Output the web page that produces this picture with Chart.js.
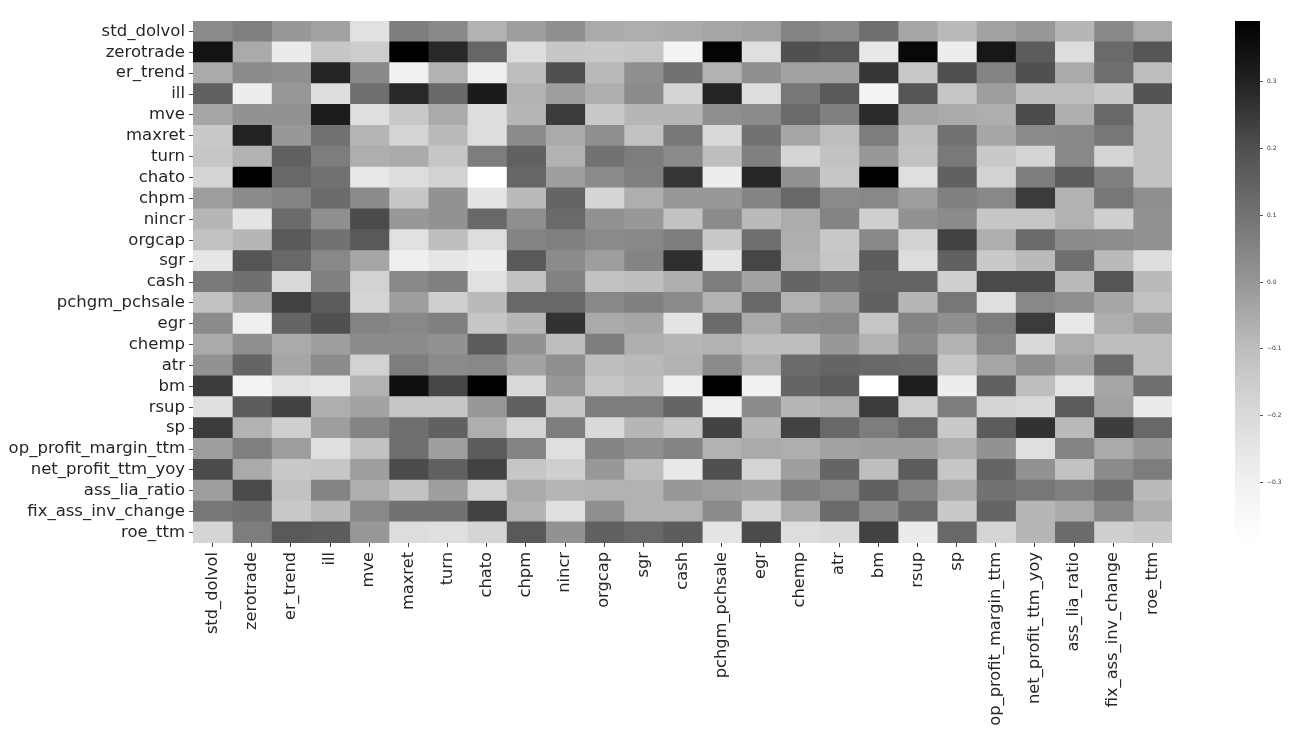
<!DOCTYPE html>
<html><head><meta charset="utf-8">
<style>html,body{margin:0;padding:0;background:#fff;width:1302px;height:732px;overflow:hidden}
canvas{position:absolute;top:0;filter:blur(0.75px)}#heat{left:0}#bar{left:1225px}</style>
<script src="https://cdn.jsdelivr.net/npm/chart.js@4"></script></head><body>
<canvas id="heat" width="1302" height="732"></canvas>
<canvas id="bar" width="77" height="732"></canvas>
<script>
const labels=["std_dolvol","zerotrade","er_trend","ill","mve","maxret","turn","chato","chpm","nincr","orgcap","sgr","cash","pchgm_pchsale","egr","chemp","atr","bm","rsup","sp","op_profit_margin_ttm","net_profit_ttm_yoy","ass_lia_ratio","fix_ass_inv_change","roe_ttm"];
const colorbarTicks=[-0.3,-0.2,-0.1,0,0.1,0.2,0.3];
const vmin=-0.39,vmax=0.39;
const greys=["#ffffff","#f0f0f0","#d9d9d9","#bdbdbd","#969696","#737373","#525252","#252525","#000000"];
const r00=[.03,.06,-.005,-.03,-.23,.07,.035,-.07,-.02,.02,-.05,-.06,-.05,-.04,-.03,.05,.03,.11,-.04,-.09,-.03,-.005,-.08,.035,-.05];
const r01=[.34,-.05,-.27,-.13,-.15,.39,.285,.135,-.21,-.13,-.14,-.13,-.31,.38,-.22,.2,.185,-.26,.37,-.28,.33,.165,-.21,.125,.185];
const r02=[-.05,.03,.02,.295,.035,-.30,-.07,-.29,-.10,.2,-.09,.02,.1,-.07,.02,-.03,-.03,.255,-.135,.2,.05,.2,-.05,.11,-.10];
const r03=[.15,-.28,-.005,-.21,.11,.285,.13,.32,-.07,-.02,-.06,.03,-.18,.295,-.21,.085,.175,-.31,.185,-.13,-.02,-.10,-.10,-.14,.19];
const r04=[-.04,.01,.01,.315,-.22,-.135,-.05,-.21,-.08,.245,-.14,-.08,-.08,.02,.03,.125,.06,.28,-.04,-.05,-.06,.21,-.06,.13,-.115];
const r05=[-.14,.30,-.005,.1,-.08,-.18,-.09,-.21,.03,-.05,.02,-.115,.085,-.195,.1,-.04,-.10,.07,-.10,.1,-.04,.03,.04,.085,-.115];
const r06=[-.13,-.07,.15,.07,-.06,-.05,-.13,.07,.15,-.07,.1,.07,.03,-.10,.06,-.18,-.115,-.005,-.115,.08,-.14,-.18,.04,-.18,-.115];
const r07=[-.18,.39,.13,.1,-.26,-.21,-.17,-.39,.135,-.02,.03,.06,.255,-.28,.29,.01,-.13,.39,-.22,.15,-.17,.07,.165,.06,-.115];
const r08=[-.02,.03,.05,.12,.03,-.13,.01,-.24,-.09,.14,-.18,-.06,-.005,-.005,.05,.13,.03,.04,-.02,.06,.04,.245,-.07,.085,.02];
const r09=[-.08,-.24,.12,.02,.21,-.005,.01,.13,.02,.125,.01,-.005,-.115,.03,-.09,-.055,.05,-.16,.01,.03,-.13,-.13,-.07,-.16,.01];
const r10=[-.115,-.08,.17,.1,.175,-.23,-.10,-.21,.05,.06,.03,.04,.07,-.14,.11,-.06,-.14,.04,-.17,.23,-.06,.125,.03,.025,.01];
const r11=[-.25,.185,.13,.04,-.04,-.29,-.25,-.28,.175,.03,-.02,.05,.27,-.24,.22,-.07,-.13,.165,-.21,.15,-.14,-.09,.11,-.09,-.21];
const r12=[.08,.105,-.195,.06,-.17,.035,.06,-.23,-.115,.055,-.11,-.10,-.06,.07,-.03,.14,.11,.14,.14,-.16,.21,.21,-.09,.185,-.09];
const r13=[-.115,-.03,.23,.165,-.18,-.02,-.16,-.09,.13,.13,.04,.06,.03,-.07,.13,-.07,-.02,.15,-.08,.085,-.22,.04,.02,-.04,-.115];
const r14=[.03,-.29,.14,.2,.05,.04,.06,-.13,-.08,.265,-.05,-.04,-.24,.12,-.05,.03,.04,-.13,.05,.02,.07,.245,-.26,-.06,-.02];
const r15=[-.05,.02,-.05,-.02,.03,.03,.01,.165,.01,-.10,.07,-.06,-.08,-.07,-.10,-.10,-.005,-.07,.03,-.07,.04,-.195,-.06,-.10,-.10];
const r16=[.01,.14,-.04,.03,-.17,.07,.03,.04,-.03,.02,-.10,-.09,-.07,.03,-.06,.12,.14,.13,.12,-.13,-.04,.02,-.03,.12,-.10];
const r17=[.245,-.31,-.23,-.25,-.07,.35,.22,.39,-.195,-.005,-.13,-.10,-.29,.39,-.30,.14,.165,-.39,.31,-.28,.15,-.10,-.24,-.04,.11];
const r18=[-.22,.165,.23,-.06,-.03,-.13,-.13,-.005,.15,-.13,.07,.07,.14,-.29,.03,-.08,-.06,.245,-.16,.07,-.18,-.195,.165,-.03,-.27];
const r19=[.245,-.07,-.16,-.02,.05,.11,.15,-.06,-.18,.07,-.195,-.08,-.13,.23,-.08,.23,.13,.07,.13,-.14,.165,.265,-.09,.24,.13];
const r20=[-.02,.06,-.02,-.22,-.115,.11,-.02,.165,.05,-.22,.05,.02,.05,-.07,-.05,-.06,-.03,-.02,-.02,-.06,.01,-.22,.05,-.05,-.005];
const r21=[.21,-.05,-.14,-.13,-.02,.21,.15,.23,-.13,-.16,-.005,-.10,-.26,.2,-.18,-.02,.14,-.10,.165,-.13,.14,.01,-.115,.03,.07];
const r22=[-.02,.21,-.115,.05,-.06,-.115,-.02,-.17,-.05,-.08,-.07,-.07,-.005,-.02,-.03,.06,.04,.15,.05,-.05,.1,.085,.06,.11,-.09];
const r23=[.085,.1,-.14,-.09,.04,.1,.1,.23,-.07,-.22,.02,-.07,-.07,.03,-.18,-.05,.12,.03,.12,-.14,.14,-.08,-.05,.04,-.06];
const r24=[-.18,.07,.175,.165,-.005,-.21,-.22,-.18,.175,.01,.15,.13,.165,-.24,.21,-.21,-.195,.23,-.27,.13,-.18,-.08,.12,-.16,-.14];
const rows=[r00,r01,r02,r03,r04,r05,r06,r07,r08,r09,r10,r11,r12,r13,r14,r15,r16,r17,r18,r19,r20,r21,r22,r23,r24];

function hex(c){return [1,3,5].map(i=>parseInt(c.substr(i,2),16));}
function colorOf(v){
  const p=Math.max(0,Math.min(1,(v-vmin)/(vmax-vmin)))*(greys.length-1);
  const i=Math.min(greys.length-2,Math.floor(p)),f=p-i;
  const a=hex(greys[i]),b=hex(greys[i+1]);
  const g=a.map((x,k)=>Math.round(x+(b[k]-x)*f));
  return `rgb(${g[0]},${g[1]},${g[2]})`;
}
const textColor="#262626";
new Chart(document.getElementById('heat'),{
  type:'bar',
  data:{labels:labels,datasets:labels.map((c,j)=>({
    label:c,
    data:rows.map(()=>[j,j+1]),
    backgroundColor:rows.map(r=>colorOf(r[j])),
    borderWidth:0,inflateAmount:0.5,grouped:false,barPercentage:1,categoryPercentage:1
  }))},
  options:{
    indexAxis:'y',responsive:false,animation:false,
    layout:{padding:{top:21,right:130,left:0,bottom:0}},
    plugins:{legend:{display:false},tooltip:{enabled:false},title:{display:false}},
    scales:{
      x:{type:'linear',min:0,max:labels.length,
        afterBuildTicks(s){s.ticks=labels.map((c,i)=>({value:i+0.5}));},
        afterFit(s){s.height=189;},
        grid:{drawOnChartArea:false,drawTicks:true,tickLength:4,tickColor:'#444',offset:false},
        border:{display:false},
        ticks:{autoSkip:false,minRotation:90,maxRotation:90,padding:5,color:textColor,font:{family:"'DejaVu Sans'",size:16.25},callback:(v,i)=>labels[i]}},
      y:{type:'category',
        afterFit(s){s.width=193;},
        grid:{drawOnChartArea:false,drawTicks:true,tickLength:4,tickColor:'#444',offset:false},
        border:{display:false},
        ticks:{autoSkip:false,padding:4,color:textColor,font:{family:"'DejaVu Sans'",size:16.5}}}
    }
  }
});
new Chart(document.getElementById('bar'),{
  type:'bar',
  data:{labels:['colorbar'],datasets:[{
    data:[[vmin,vmax]],borderWidth:0,barPercentage:1,categoryPercentage:1,
    backgroundColor(ctx){
      const a=ctx.chart.chartArea,y=ctx.chart.scales.y;
      if(!a||!y)return '#888';
      const g=ctx.chart.ctx.createLinearGradient(0,y.getPixelForValue(vmin),0,y.getPixelForValue(vmax));
      greys.forEach((c,i)=>g.addColorStop(i/(greys.length-1),c));
      return g;
    }
  }]},
  options:{
    responsive:false,animation:false,
    layout:{padding:{top:21,left:10,right:0,bottom:189}},
    plugins:{legend:{display:false},tooltip:{enabled:false}},
    scales:{
      x:{display:false},
      y:{position:'right',min:vmin,max:vmax,
        afterBuildTicks(s){s.ticks=colorbarTicks.map(v=>({value:v}));},
        afterFit(s){s.width=42;},
        grid:{drawOnChartArea:false,drawTicks:true,tickLength:3,tickColor:'#555'},
        border:{display:false},
        ticks:{padding:4,color:'#333',font:{family:"'DejaVu Sans'",size:6},
          callback:v=>(v<0?'\u2212':'')+Math.abs(v).toFixed(1)}}
    }
  }
});
</script></body></html>
